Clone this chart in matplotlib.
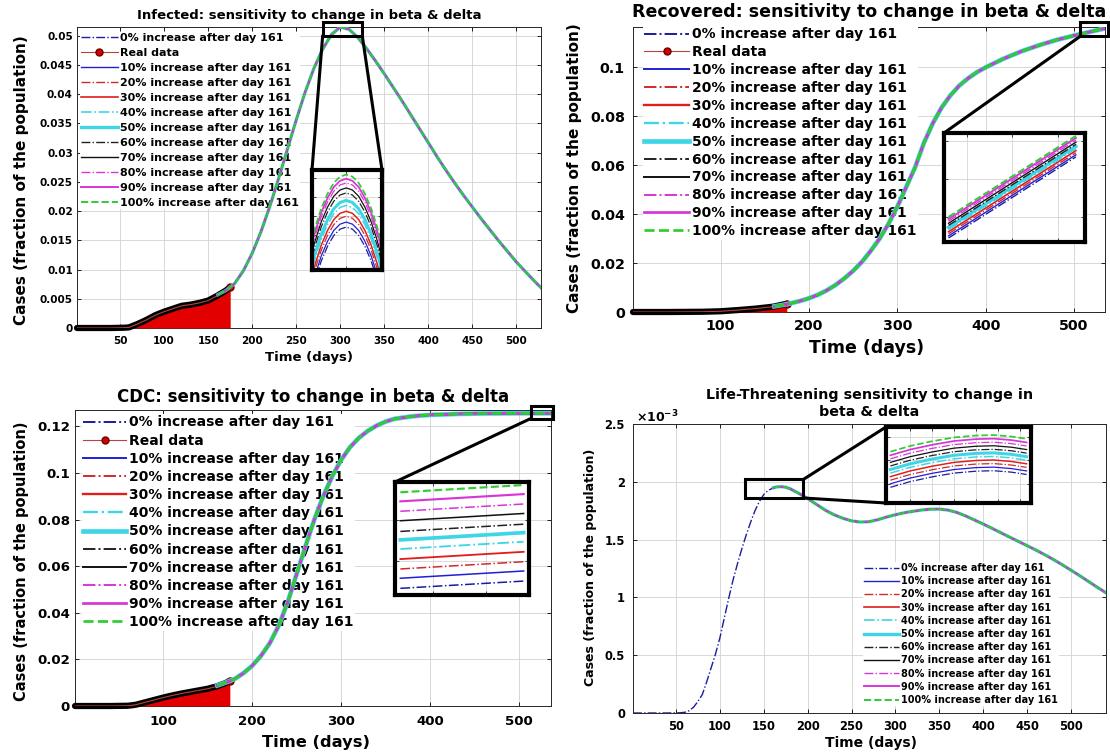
import numpy as np
import matplotlib
matplotlib.use("Agg")
import matplotlib.pyplot as plt
from matplotlib.patches import Rectangle, ConnectionPatch
from matplotlib.ticker import FuncFormatter

plt.rcParams["font.family"] = ["DejaVu Sans"]
plt.rcParams["font.weight"] = "bold"
plt.rcParams["axes.titleweight"] = "bold"
plt.rcParams["axes.labelweight"] = "bold"

W, H = 1110, 752

# ---------------- data ----------------
scenario_pct = [0, 10, 20, 30, 40, 50, 60, 70, 80, 90, 100]
change_day = 161

# Infected
inf_days = [1, 20, 40, 55, 60, 65, 70, 80, 90, 100, 110, 120, 130, 140, 150, 161,
            170, 180, 190, 200, 210, 220, 230, 240, 250, 260, 270, 280, 290, 300,
            310, 320, 330, 340, 350, 360, 370, 380, 390, 400, 410, 420, 430, 440,
            450, 460, 470, 480, 490, 500, 510, 520, 530, 540]
inf_vals = [0.0, 0.0, 0.0, 0.00005, 0.0001, 0.0003, 0.0006, 0.0013, 0.0021, 0.0027,
            0.0032, 0.0037, 0.0040, 0.0043, 0.0048, 0.0057,
            0.0064, 0.0076, 0.0098, 0.0128, 0.0165, 0.0208, 0.0256, 0.0306, 0.0356,
            0.0403, 0.0444, 0.0477, 0.0502, 0.0515, 0.0511, 0.0497, 0.0478, 0.0457,
            0.0435, 0.0412, 0.0389, 0.0365, 0.0341, 0.0317, 0.0293, 0.0270, 0.0248,
            0.0227, 0.0207, 0.0187, 0.0168, 0.0149, 0.0131, 0.0113, 0.0097, 0.0081,
            0.0066, 0.0052]
inf_real_days = [1, 20, 40, 55, 60, 65, 70, 80, 90, 100, 110, 120, 130, 140, 150, 160, 170, 175]
inf_real_vals = [0.0, 0.0, 0.0, 0.00005, 0.0001, 0.0004, 0.0007, 0.0014, 0.0022, 0.0028,
                 0.0033, 0.0038, 0.0040, 0.0043, 0.0047, 0.0055, 0.0064, 0.0070]
inf_zoom_days = [278, 282, 286, 290, 294, 298, 302, 306, 310, 314, 318, 322, 326]
inf_zoom_base = [0.04920, 0.04976, 0.05022, 0.05057, 0.05083, 0.05098, 0.05103,
                 0.05098, 0.05083, 0.05057, 0.05022, 0.04976, 0.04920]
inf_zoom_gap = [0, 0.00012, 0.00026, 0.00038, 0.00052, 0.00064, 0.00082, 0.00094,
                0.00106, 0.00116, 0.00126]

# Recovered
rec_days = [1, 20, 40, 60, 80, 100, 120, 140, 161, 175, 180, 190, 200, 210, 220, 230,
            240, 250, 260, 270, 280, 290, 300, 310, 320, 330, 340, 350, 360, 370, 380,
            390, 400, 420, 440, 460, 480, 500, 520, 540]
rec_vals = [0.0, 0.0, 0.0, 0.00005, 0.0001, 0.0003, 0.0007, 0.0013, 0.0023, 0.0032,
            0.0036, 0.0045, 0.0056, 0.0070, 0.0088, 0.0110, 0.0137, 0.0168, 0.0205,
            0.0250, 0.0300, 0.0360, 0.0430, 0.0510, 0.0590, 0.0690, 0.0770, 0.0835,
            0.0885, 0.0925, 0.0955, 0.0980, 0.1000, 0.1035, 0.1065, 0.1090, 0.1112,
            0.1130, 0.1147, 0.1163]
rec_real_days = [1, 20, 40, 60, 80, 100, 120, 140, 160, 175]
rec_real_vals = [0.0, 0.0, 0.0, 0.00005, 0.0001, 0.0003, 0.0008, 0.0014, 0.0022, 0.0034]
rec_zoom_days = [506, 520, 534]
rec_zoom_base = [0.11291, 0.11503, 0.11715]
rec_zoom_gap = [0, 0.00011, 0.00022, 0.00033, 0.00044, 0.00055, 0.00066, 0.00077,
                0.00088, 0.00099, 0.0011]

# CDC
cdc_days = [1, 20, 40, 60, 65, 70, 80, 90, 100, 110, 120, 130, 140, 150, 161, 170, 175,
            180, 190, 200, 210, 220, 230, 240, 250, 260, 270, 280, 290, 300, 310, 320,
            330, 340, 350, 360, 380, 400, 430, 460, 500, 540]
cdc_vals = [0.0, 0.0, 0.0, 0.0001, 0.0003, 0.0006, 0.0015, 0.0025, 0.0035, 0.0044,
            0.0052, 0.0059, 0.0066, 0.0075, 0.0088, 0.0100, 0.0108,
            0.0115, 0.0140, 0.0172, 0.0215, 0.0270, 0.0345, 0.0445, 0.0565, 0.0685,
            0.0800, 0.0900, 0.0985, 0.1055, 0.1110, 0.1150, 0.1180, 0.1203, 0.1220,
            0.1232, 0.1243, 0.1249, 0.1253, 0.1255, 0.1256, 0.1256]
cdc_real_days = [1, 20, 40, 60, 65, 70, 80, 90, 100, 110, 120, 130, 140, 150, 160, 170, 175]
cdc_real_vals = [0.0, 0.0, 0.0, 0.0001, 0.0003, 0.0006, 0.0016, 0.0026, 0.0036, 0.0045,
                 0.0053, 0.0060, 0.0067, 0.0074, 0.0084, 0.0098, 0.0108]
cdc_zoom_days = [514, 537]
cdc_zoom_base = [0.12363, 0.12399]
cdc_zoom_gap = [0, 0.0005, 0.00096, 0.00145, 0.00195, 0.0024, 0.00282, 0.00335,
                0.00382, 0.00431, 0.00476]

# Life-threatening (values in units of 1e-3)
lt_days = [1, 20, 40, 55, 60, 65, 70, 75, 80, 85, 90, 95, 100, 105, 110, 115, 120, 125,
           130, 135, 140, 145, 150, 155, 161, 165, 170, 175, 180, 190, 200, 210, 220,
           230, 240, 250, 260, 270, 280, 290, 300, 310, 320, 330, 340, 350, 360, 370,
           380, 390, 400, 410, 420, 430, 440, 450, 460, 470, 480, 490, 500, 510, 520,
           530, 540]
lt_vals = [0.0, 0.0, 0.0, 0.002, 0.006, 0.02, 0.05, 0.10, 0.16, 0.27, 0.39, 0.51, 0.65,
           0.82, 0.99, 1.15, 1.29, 1.42, 1.54, 1.65, 1.75, 1.83, 1.89, 1.925,
           1.948, 1.956, 1.958, 1.953, 1.94,
           1.90, 1.855, 1.805, 1.755, 1.715, 1.685, 1.662, 1.652, 1.655, 1.672, 1.695,
           1.715, 1.732, 1.745, 1.756, 1.763, 1.764, 1.755, 1.735, 1.705, 1.67, 1.635,
           1.598, 1.56, 1.522, 1.485, 1.448, 1.41, 1.37, 1.328, 1.283, 1.236, 1.188,
           1.138, 1.088, 1.04]
lt_zoom_days = [131, 140, 150, 160, 170, 178, 186, 193]
lt_zoom_base = [1.893, 1.905, 1.915, 1.923, 1.927, 1.928, 1.925, 1.920]
lt_zoom_gap = [0, 0.0075, 0.015, 0.0225, 0.03, 0.0375, 0.045, 0.0525, 0.06, 0.0675, 0.075]

# ---------------- styles ----------------
line_colors = ["#1c1c9e", "#1f1fd6", "#cf2b2b", "#e11d1d", "#3ed5e6", "#3ed5e6",
               "#222222", "#111111", "#d835d8", "#d835d8", "#30cc30"]
line_styles = ["-.", "-", "-.", "-", "-.", "-", "-.", "-", "-.", "-", "--"]
line_widths = [1.0, 1.0, 1.0, 1.2, 1.2, 2.4, 1.0, 1.0, 1.0, 1.4, 1.4]


def fig_rect(l, t, r, b):
    return [l / W, 1 - b / H, (r - l) / W, (b - t) / H]


fmt_g = FuncFormatter(lambda v, pos: "%g" % round(v, 6))

fig = plt.figure(figsize=(W / 100, H / 100), dpi=100)


def make_panel(box, days, vals, real_days, real_vals, xlim, ylim, xticks, yticks,
               fs, lwk, title, title_y, ylab_px, xlab_px, leg_px, leg_kw, pads):
    l, t, r, b = box
    ax = fig.add_axes(fig_rect(l, t, r, b))
    days = np.asarray(days)
    vals = np.asarray(vals)
    after = days >= change_day
    for i, pct in enumerate(scenario_pct):
        lab = f"{pct}% increase after day {change_day}"
        kw = dict(color=line_colors[i], ls=line_styles[i], lw=line_widths[i] * lwk, label=lab)
        if i == 0:
            ax.plot(days, vals, zorder=3, **kw)
            if real_days is not None:
                # real observations: red area, dark marker band, end point
                ax.fill_between(real_days, 0, real_vals, color="#e30000", lw=0, zorder=2.6)
                ax.plot(real_days, real_vals, color="black", lw=4.5, solid_capstyle="round",
                        zorder=3.004, clip_on=False)
                ax.plot(real_days, real_vals, color="#b5473a", lw=0.8, marker="o",
                        markevery=[len(real_days) - 1], ms=5, mfc="#d40000", mec="#6b0000",
                        label="Real data", zorder=3.006)
        else:
            ax.plot(days[after], vals[after], zorder=3 + 0.01 * i, **kw)

    ax.set_xlim(xlim)
    ax.set_ylim(ylim)
    ax.set_xticks(xticks)
    ax.set_yticks(yticks)
    ax.xaxis.set_major_formatter(fmt_g)
    ax.yaxis.set_major_formatter(fmt_g)
    ax.grid(True, color="#d2d2d2", lw=0.6)
    ax.set_axisbelow(True)
    ax.tick_params(direction="in", length=3, width=0.6, labelsize=fs["tick"],
                   top=True, right=True)
    ax.tick_params(axis="x", pad=pads[0])
    ax.tick_params(axis="y", pad=pads[1])
    for s in ax.spines.values():
        s.set_linewidth(0.7)
        s.set_color("#262626")

    ax.set_title(title, fontsize=fs["title"], y=title_y, pad=0, va="center")
    ax.set_ylabel("Cases (fraction of the population)", fontsize=fs["ylab"])
    ax.set_xlabel("Time (days)", fontsize=fs["xlab"])
    ax.yaxis.set_label_coords((ylab_px[0] - l) / (r - l), (b - ylab_px[1]) / (b - t))
    ax.xaxis.set_label_coords((xlab_px[0] - l) / (r - l), (b - xlab_px[1]) / (b - t))
    ax.yaxis.label.set_va("center")
    ax.xaxis.label.set_va("center")

    leg = ax.legend(loc="upper left", bbox_to_anchor=(leg_px[0] / W, 1 - leg_px[1] / H),
                    bbox_transform=fig.transFigure, fontsize=fs["leg"], borderpad=0.1,
                    borderaxespad=0, frameon=True, fancybox=False, edgecolor="none",
                    facecolor="white", framealpha=1, **leg_kw)
    leg.set_zorder(2.5)
    return ax


def make_inset(ax, rect, zdays, zbase, zgap, xlim, ylim, xt, yt, lwk, small, links):
    ins = fig.add_axes(fig_rect(*rect))
    zbase = np.asarray(zbase)
    for i in range(len(scenario_pct)):
        ins.plot(zdays, zbase + zgap[i], color=line_colors[i], ls=line_styles[i],
                 lw=line_widths[i] * lwk)
    ins.set_xlim(xlim)
    ins.set_ylim(ylim)
    ins.set_xticks(xt)
    ins.set_yticks(yt)
    ins.tick_params(direction="in", length=3, width=0.5, labelbottom=False,
                    labelleft=False, top=True, right=True)
    ins.grid(True, color="#d5d5d5", lw=0.6)
    ins.set_axisbelow(True)
    for s in ins.spines.values():
        s.set_linewidth(3)
        s.set_color("black")
    x0, x1, y0, y1 = small
    ax.add_patch(Rectangle((x0, y0), x1 - x0, y1 - y0, fill=False, ec="black", lw=2.2,
                           clip_on=False, zorder=6))
    for pa, pb in links:
        con = ConnectionPatch(xyA=pa, coordsA="data", axesA=ax, xyB=pb,
                              coordsB="axes fraction", axesB=ins, color="black", lw=2.2,
                              zorder=6)
        fig.add_artist(con)
    return ins


# ---- Infected (top left) ----
ax1 = make_panel((77, 27, 541, 328), inf_days, inf_vals, inf_real_days, inf_real_vals,
                 (1, 528), (0, 0.0515), np.arange(50, 501, 50), np.arange(0, 0.0501, 0.005),
                 dict(tick=7.5, title=9.5, ylab=11, xlab=9.5, leg=8), 1.0,
                 "Infected: sensitivity to change in beta & delta", (328 - 15) / 301,
                 (22, 180), (309, 357), (80, 32),
                 dict(handlelength=3.3, handletextpad=0.2, labelspacing=0.45), (5.5, 3))
make_inset(ax1, (312, 170, 382, 270), inf_zoom_days, inf_zoom_base, inf_zoom_gap,
           (280, 325), (0.0500, 0.0524), [302], [0.0504, 0.05085, 0.0513, 0.05175, 0.0522],
           0.9, (280, 325, 0.0500, 0.0524),
           [((280, 0.0500), (0, 1)), ((325, 0.0500), (1, 1))])

# ---- Recovered (top right) ----
ax2 = make_panel((633, 27, 1105, 312), rec_days, rec_vals, rec_real_days, rec_real_vals,
                 (1, 535), (0, 0.1165), np.arange(100, 501, 100), np.arange(0, 0.101, 0.02),
                 dict(tick=10.3, title=12.5, ylab=11, xlab=12.5, leg=10), 1.4,
                 "Recovered: sensitivity to change in beta & delta", (312 - 12) / 285,
                 (575, 168), (867, 348), (643, 26),
                 dict(handlelength=3.2, handletextpad=0.2, labelspacing=0.28), (5, 5.8))
make_inset(ax2, (944, 133, 1085, 242), rec_zoom_days, rec_zoom_base, rec_zoom_gap,
           (505, 536), (0.1127, 0.1184), [510, 520, 530], [0.114, 0.116, 0.118],
           1.0, (507, 538, 0.1127, 0.1184),
           [((507, 0.1127), (0, 1)), ((538, 0.1127), (1, 1))])

# ---- CDC (bottom left) ----
ax3 = make_panel((75, 410, 551, 706), cdc_days, cdc_vals, cdc_real_days, cdc_real_vals,
                 (1, 536), (0, 0.127), np.arange(100, 501, 100), np.arange(0, 0.121, 0.02),
                 dict(tick=9.6, title=12, ylab=10.5, xlab=11.7, leg=10), 1.4,
                 "CDC: sensitivity to change in beta & delta", (706 - 397) / 296,
                 (22, 561), (316, 743), (82, 414),
                 dict(handlelength=3.1, handletextpad=0.2, labelspacing=0.3), (6.5, 3.6))
make_inset(ax3, (395, 482, 529, 595), cdc_zoom_days, cdc_zoom_base, cdc_zoom_gap,
           (513, 538), (0.1233, 0.1289), [520, 530], [0.125, 0.127],
           1.1, (513, 538, 0.1233, 0.1289),
           [((513, 0.1233), (0, 1)), ((538, 0.1289), (1, 1))])

# ---- Life-threatening (bottom right) ----
ax4 = make_panel((633, 424, 1106, 713), lt_days, lt_vals, None, None,
                 (1, 540), (0, 2.5), np.arange(50, 501, 50), np.arange(0, 2.51, 0.5),
                 dict(tick=8.3, title=10.3, ylab=9, xlab=10, leg=7), 1.0,
                 "Life-Threatening sensitivity to change in\nbeta & delta", (713 - 403.5) / 289,
                 (591, 567), (871, 743), (863, 562),
                 dict(handlelength=3.6, handletextpad=0.2, labelspacing=0.33), (5, 5.8))
make_inset(ax4, (886, 427, 1031, 503), lt_zoom_days, lt_zoom_base, lt_zoom_gap,
           (129, 195), (1.86, 2.02), [140, 150, 160, 170, 180, 190], [1.9, 1.95, 2.0],
           0.9, (129, 195, 1.86, 2.02),
           [((195, 2.02), (0, 1)), ((195, 1.86), (0, 0))])
fig.text(636 / W, 1 - 417 / H, r"$\times10^{-3}$", fontsize=9, fontweight="normal",
         va="center", ha="left")

fig.savefig("out.png", dpi=100)
